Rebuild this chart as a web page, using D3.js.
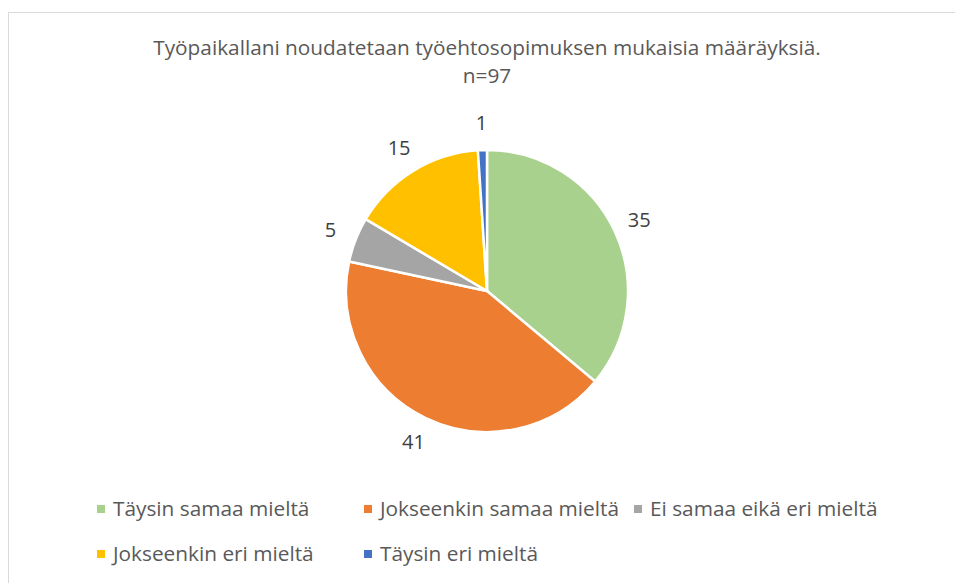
<!DOCTYPE html>
<html>
<head>
<meta charset="utf-8">
<script src="https://cdn.jsdelivr.net/npm/d3@7"></script>
<style>
  body { margin: 0; background: #fff; }
  text { font-family: "Open Sans", sans-serif; }
</style>
</head>
<body>
<script>
// data
var categories = ["Täysin samaa mieltä", "Jokseenkin samaa mieltä", "Ei samaa eikä eri mieltä", "Jokseenkin eri mieltä", "Täysin eri mieltä"];
var values = [35, 41, 5, 15, 1];
var colors = ["#A9D18E", "#ED7D31", "#A5A5A5", "#FFC000", "#4472C4"];
var titleLines = ["Työpaikallani noudatetaan työehtosopimuksen mukaisia määräyksiä.", "n=97"];

var svgWidth = 955;
var svgHeight = 583;

var svg = d3.select("body")
  .append("svg")
  .attr("width", svgWidth)
  .attr("height", svgHeight);

// chart border
svg.append("rect")
  .attr("x", 8.5)
  .attr("y", 12.5)
  .attr("width", 960)
  .attr("height", 600)
  .attr("fill", "#fff")
  .attr("stroke", "#d9d9d9")
  .attr("stroke-width", 1);

// title
var title = svg.append("text")
  .attr("text-anchor", "middle")
  .attr("fill", "#595959")
  .style("font-size", "20.8px");
title.selectAll("tspan")
  .data(titleLines)
  .enter()
  .append("tspan")
  .attr("x", 487)
  .attr("y", (d, i) => 55 + i * 28)
  .text(d => d);

var cx = 487, cy = 291, radius = 141;

var pie = d3.pie().sort(null).value(d => d);
var arcs = pie(values);
var arc = d3.arc().innerRadius(0).outerRadius(radius);
var labelArc = d3.arc().innerRadius(168).outerRadius(168);

var pieGroup = svg.append("g")
  .attr("transform", `translate(${cx}, ${cy})`);

pieGroup.selectAll("path")
  .data(arcs)
  .enter()
  .append("path")
  .attr("d", arc)
  .attr("fill", (d, i) => colors[i])
  .attr("stroke", "#fff")
  .attr("stroke-width", 2.5)
  .attr("stroke-linejoin", "round");

pieGroup.selectAll(".lbl")
  .data(arcs)
  .enter()
  .append("text")
  .attr("class", "lbl")
  .attr("transform", d => `translate(${labelArc.centroid(d)})`)
  .attr("text-anchor", "middle")
  .attr("dy", "0.35em")
  .attr("fill", "#404040")
  .style("font-size", "20px")
  .text(d => d.data);

// legend
var legendPos = [
  {x: 97, y: 509}, {x: 364, y: 509}, {x: 634, y: 509},
  {x: 97, y: 554}, {x: 364, y: 554}
];

var legend = svg.selectAll(".legend")
  .data(categories)
  .enter()
  .append("g")
  .attr("class", "legend")
  .attr("transform", (d, i) => `translate(${legendPos[i].x}, ${legendPos[i].y})`);

legend.append("rect")
  .attr("x", 0)
  .attr("y", -4)
  .attr("width", 8)
  .attr("height", 8)
  .attr("fill", (d, i) => colors[i]);

legend.append("text")
  .attr("x", 16)
  .attr("dy", "0.35em")
  .attr("fill", "#595959")
  .style("font-size", "20.8px")
  .text(d => d);
</script>
</body>
</html>
